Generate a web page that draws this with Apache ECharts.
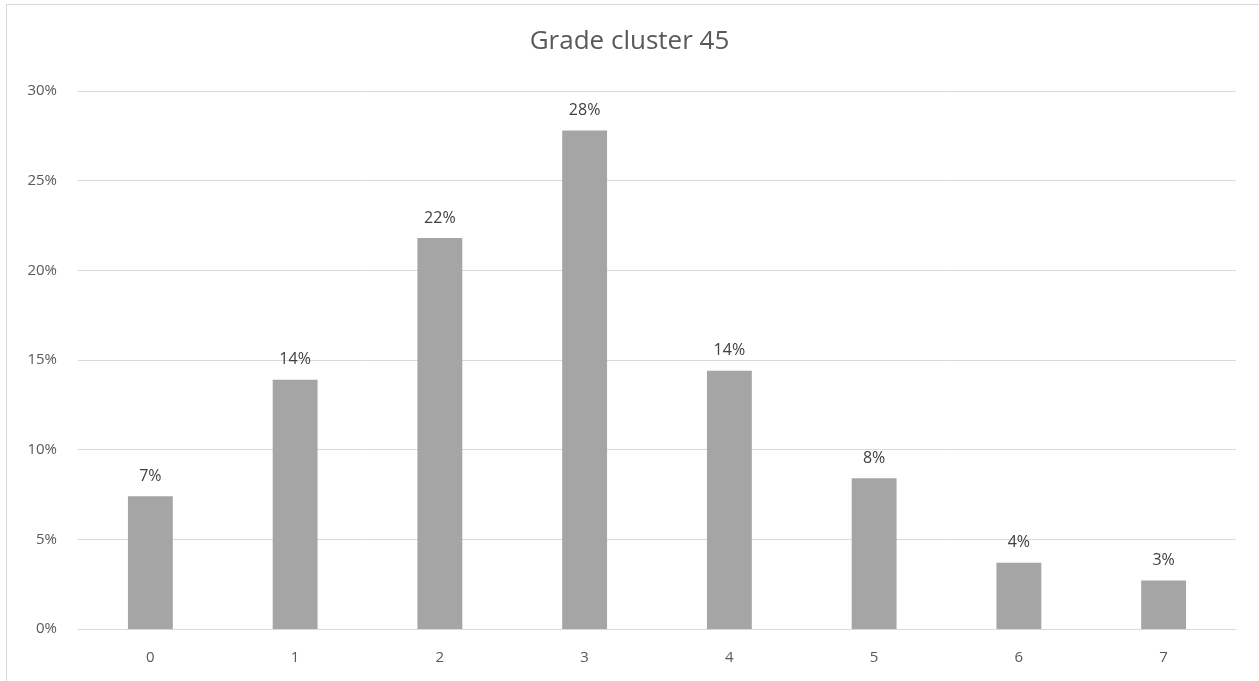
<!DOCTYPE html>
<html>
<head>
<meta charset="utf-8">
<script src="https://cdn.jsdelivr.net/npm/echarts@6/dist/echarts.min.js"></script>
<style>
  html, body { margin: 0; padding: 0; background: #ffffff; }
  #frame { position: absolute; left: 6px; top: 4px; width: 1259px; height: 681px; border: 1px solid #d9d9d9; box-sizing: border-box; }
  #chart { position: absolute; left: 0; top: 0; width: 1259px; height: 681px; }
</style>
</head>
<body>
<div id="frame"></div>
<div id="chart"></div>
<script>
// Share of students per grade (percent)
const grades = ['0', '1', '2', '3', '4', '5', '6', '7'];
const shares = [7.4, 13.9, 21.8, 27.8, 14.4, 8.4, 3.7, 2.7];
const yTicks = { min: 0, max: 30, step: 5 };
const titleText = 'Grade cluster 45';

const font = '"Open Sans", Lato, sans-serif';
const chart = echarts.init(document.getElementById('chart'), null, { renderer: 'canvas' });
chart.setOption({
  animation: false,
  backgroundColor: 'transparent',
  title: {
    text: titleText,
    left: 'center',
    top: 24,
    textStyle: { fontFamily: font, fontSize: 26, fontWeight: 'normal', color: '#595959' }
  },
  grid: { left: 78, right: 23, top: 91, bottom: 52, containLabel: false },
  xAxis: {
    type: 'category',
    data: grades,
    axisLine: { show: true, lineStyle: { color: '#d9d9d9', width: 1 } },
    axisTick: { show: false },
    axisLabel: { color: '#595959', fontFamily: font, fontSize: 15, margin: 21 }
  },
  yAxis: {
    type: 'value',
    min: yTicks.min,
    max: yTicks.max,
    interval: yTicks.step,
    axisLine: { show: false },
    axisTick: { show: false },
    splitLine: { lineStyle: { color: '#d9d9d9', width: 1 } },
    axisLabel: { color: '#595959', fontFamily: font, fontSize: 15, margin: 21, formatter: v => v + '%' }
  },
  series: [{
    type: 'bar',
    data: shares,
    barWidth: '31%',
    itemStyle: { color: '#a5a5a5' },
    label: {
      show: true,
      position: 'top',
      distance: 12,
      color: '#404040',
      fontFamily: font,
      fontSize: 16,
      formatter: p => Math.round(p.value) + '%'
    }
  }]
});
</script>
</body>
</html>
